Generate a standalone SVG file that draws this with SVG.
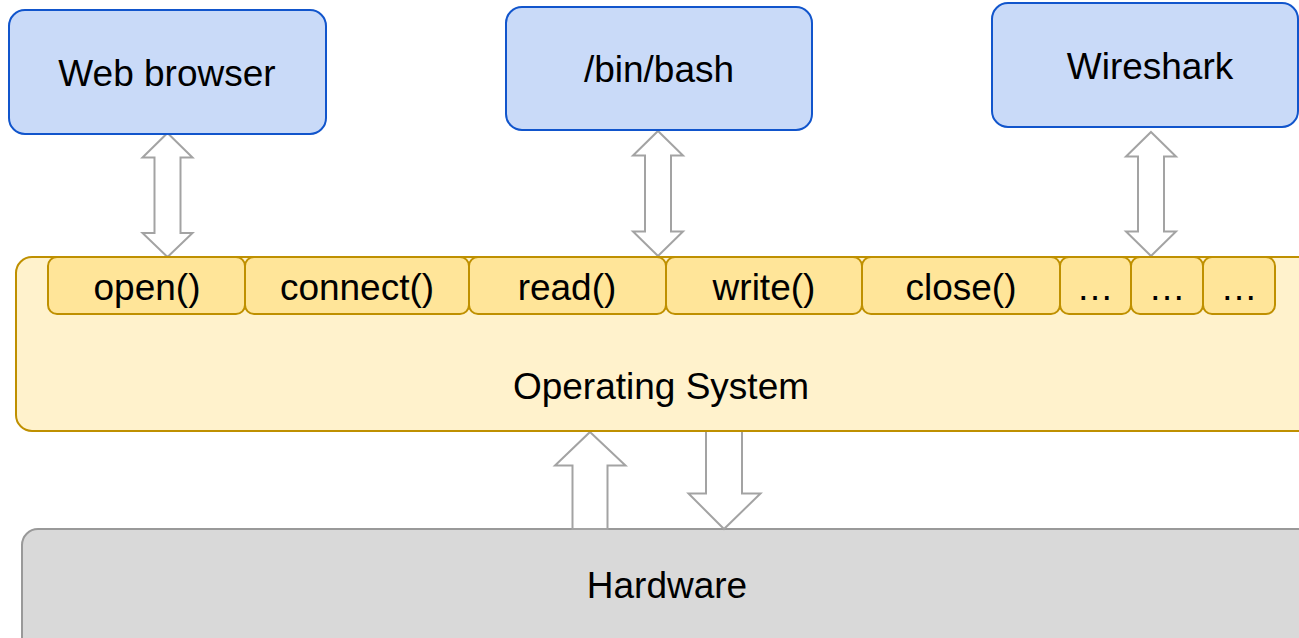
<svg xmlns="http://www.w3.org/2000/svg" width="1299" height="638" viewBox="0 0 1299 638">
  <style>
    text { font-family: "Liberation Sans", Arial, sans-serif; font-size: 37px; fill: #000; text-anchor: middle; }
    .app { fill: #c9daf8; stroke: #1155cc; stroke-width: 2; }
    .os { fill: #fff2cc; stroke: #bf9000; stroke-width: 2; }
    .call { fill: #ffe599; stroke: #bf9000; stroke-width: 2; }
    .hw { fill: #d9d9d9; stroke: #999999; stroke-width: 2; }
    .arrow { fill: #ffffff; stroke: #a3a3a3; stroke-width: 2; stroke-linejoin: miter; }
  </style>

  <!-- hardware layer -->
  <g id="hardware">
    <rect class="hw" x="22" y="529" width="1300" height="130" rx="16"/>
    <text x="667" y="598">Hardware</text>
  </g>

  <!-- block arrows between layers (drawn under the OS so its edge stays on top) -->
  <g id="connectors">
    <polygon class="arrow" points="167.5,133 192.5,157.5 180.5,157.5 180.5,233 192.5,233 167.5,257 142.5,233 154.5,233 154.5,157.5 142.5,157.5"/>
    <polygon class="arrow" points="658,131 683,155.5 671,155.5 671,231.5 683,231.5 658,256 633,231.5 645,231.5 645,155.5 633,155.5"/>
    <polygon class="arrow" points="1151,132 1176,156.5 1164,156.5 1164,231.5 1176,231.5 1151,256 1126,231.5 1138,231.5 1138,156.5 1126,156.5"/>
    <polygon class="arrow" points="590,432 625.5,465.5 607.5,465.5 607.5,529 572.5,529 572.5,465.5 555,465.5"/>
    <polygon class="arrow" points="706,428 742,428 742,493.5 760.5,493.5 724,529 688.5,493.5 706,493.5"/>
  </g>

  <!-- operating system with its system call interface -->
  <g id="os">
    <rect class="os" x="16" y="257" width="1300" height="174" rx="16"/>
    <text x="661" y="399">Operating System</text>
  </g>
  <g id="call-open">
    <rect class="call" x="48" y="257" width="197" height="57" rx="9"/>
    <text x="147" y="300">open()</text>
  </g>
  <g id="call-connect">
    <rect class="call" x="245" y="257" width="224" height="57" rx="9"/>
    <text x="357" y="300">connect()</text>
  </g>
  <g id="call-read">
    <rect class="call" x="469" y="257" width="197" height="57" rx="9"/>
    <text x="567" y="300">read()</text>
  </g>
  <g id="call-write">
    <rect class="call" x="666" y="257" width="196" height="57" rx="9"/>
    <text x="764" y="300">write()</text>
  </g>
  <g id="call-close">
    <rect class="call" x="862" y="257" width="198" height="57" rx="9"/>
    <text x="961" y="300">close()</text>
  </g>
  <g id="call-more-1">
    <rect class="call" x="1060" y="257" width="71" height="57" rx="9"/>
    <text x="1095" y="300">…</text>
  </g>
  <g id="call-more-2">
    <rect class="call" x="1131" y="257" width="72" height="57" rx="9"/>
    <text x="1167" y="300">…</text>
  </g>
  <g id="call-more-3">
    <rect class="call" x="1203" y="257" width="72" height="57" rx="9"/>
    <text x="1239" y="300">…</text>
  </g>

  <!-- user-space programs -->
  <g id="web-browser">
    <rect class="app" x="9" y="10" width="317" height="124" rx="16"/>
    <text x="167" y="86">Web browser</text>
  </g>
  <g id="bash">
    <rect class="app" x="506" y="7" width="306" height="123" rx="16"/>
    <text x="659" y="82">/bin/bash</text>
  </g>
  <g id="wireshark">
    <rect class="app" x="992" y="3" width="306" height="124" rx="16"/>
    <text x="1150" y="79">Wireshark</text>
  </g>
</svg>
